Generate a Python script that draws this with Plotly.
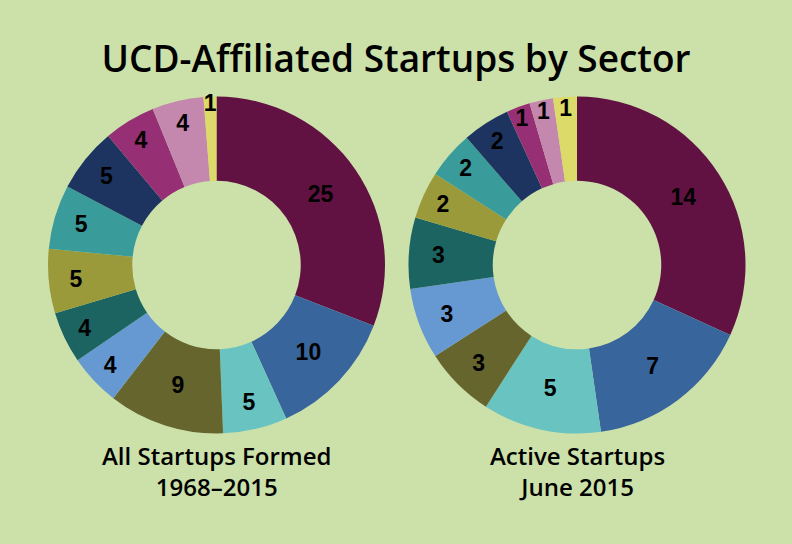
import plotly.graph_objects as go

sectors = ["S1", "S2", "S3", "S4", "S5", "S6", "S7", "S8", "S9", "S10", "S11", "S12"]
all_startups = [25, 10, 5, 9, 4, 4, 5, 5, 5, 4, 4, 1]
active_startups = [14, 7, 5, 3, 3, 3, 2, 2, 2, 1, 1, 1]
colors = ["#611242", "#38659C", "#69C3C0", "#65652D", "#6699D2", "#1B6462",
          "#9B9A3A", "#3A9C9A", "#1D3461", "#962F73", "#C488AE", "#DCDA68"]

title = "UCD-Affiliated Startups by Sector"
sub_left = "All Startups Formed<br>1968–2015"
sub_right = "Active Startups<br>June 2015"

W, H = 792, 544
bg = "#CCE0AA"

def dom(cx, cy, r):
    return dict(x=[(cx - r) / W, (cx + r) / W], y=[1 - (cy + r) / H, 1 - (cy - r) / H])

fig = go.Figure()
for vals, d in [(all_startups, dom(216.5, 265, 168.5)), (active_startups, dom(577, 265, 168.5))]:
    fig.add_trace(go.Pie(
        labels=sectors, values=vals, hole=0.5, sort=False, direction="clockwise", rotation=0,
        marker=dict(colors=colors, line=dict(width=0)),
        textinfo="value", textposition="inside", insidetextorientation="horizontal",
        textfont=dict(family="Liberation Sans, Arial", size=23, color="black", weight="bold"),
        domain=d, showlegend=False, hoverinfo="label+value",
    ))

sub_font = dict(family="Open Sans", size=24, color="black", weight=600)
annotations = [
    dict(text=txt, x=cx / W, y=1 - 471 / H, xref="paper", yref="paper", showarrow=False,
         xanchor="center", yanchor="middle", align="center", font=sub_font)
    for cx, txt in [(217, sub_left), (577, sub_right)]
]

fig.update_layout(
    width=W, height=H, paper_bgcolor=bg, plot_bgcolor=bg,
    margin=dict(l=0, r=0, t=0, b=0),
    uniformtext=dict(minsize=23, mode="show"),
    title=dict(text=title, x=0.5, xanchor="center", y=1 - 59 / H, yanchor="middle",
               font=dict(family="Open Sans", size=37, color="black", weight=600)),
    annotations=annotations,
)
fig.write_html("out.html", config={"displayModeBar": False},
               post_script="document.body.style.margin='0';document.body.style.overflow='hidden';")
